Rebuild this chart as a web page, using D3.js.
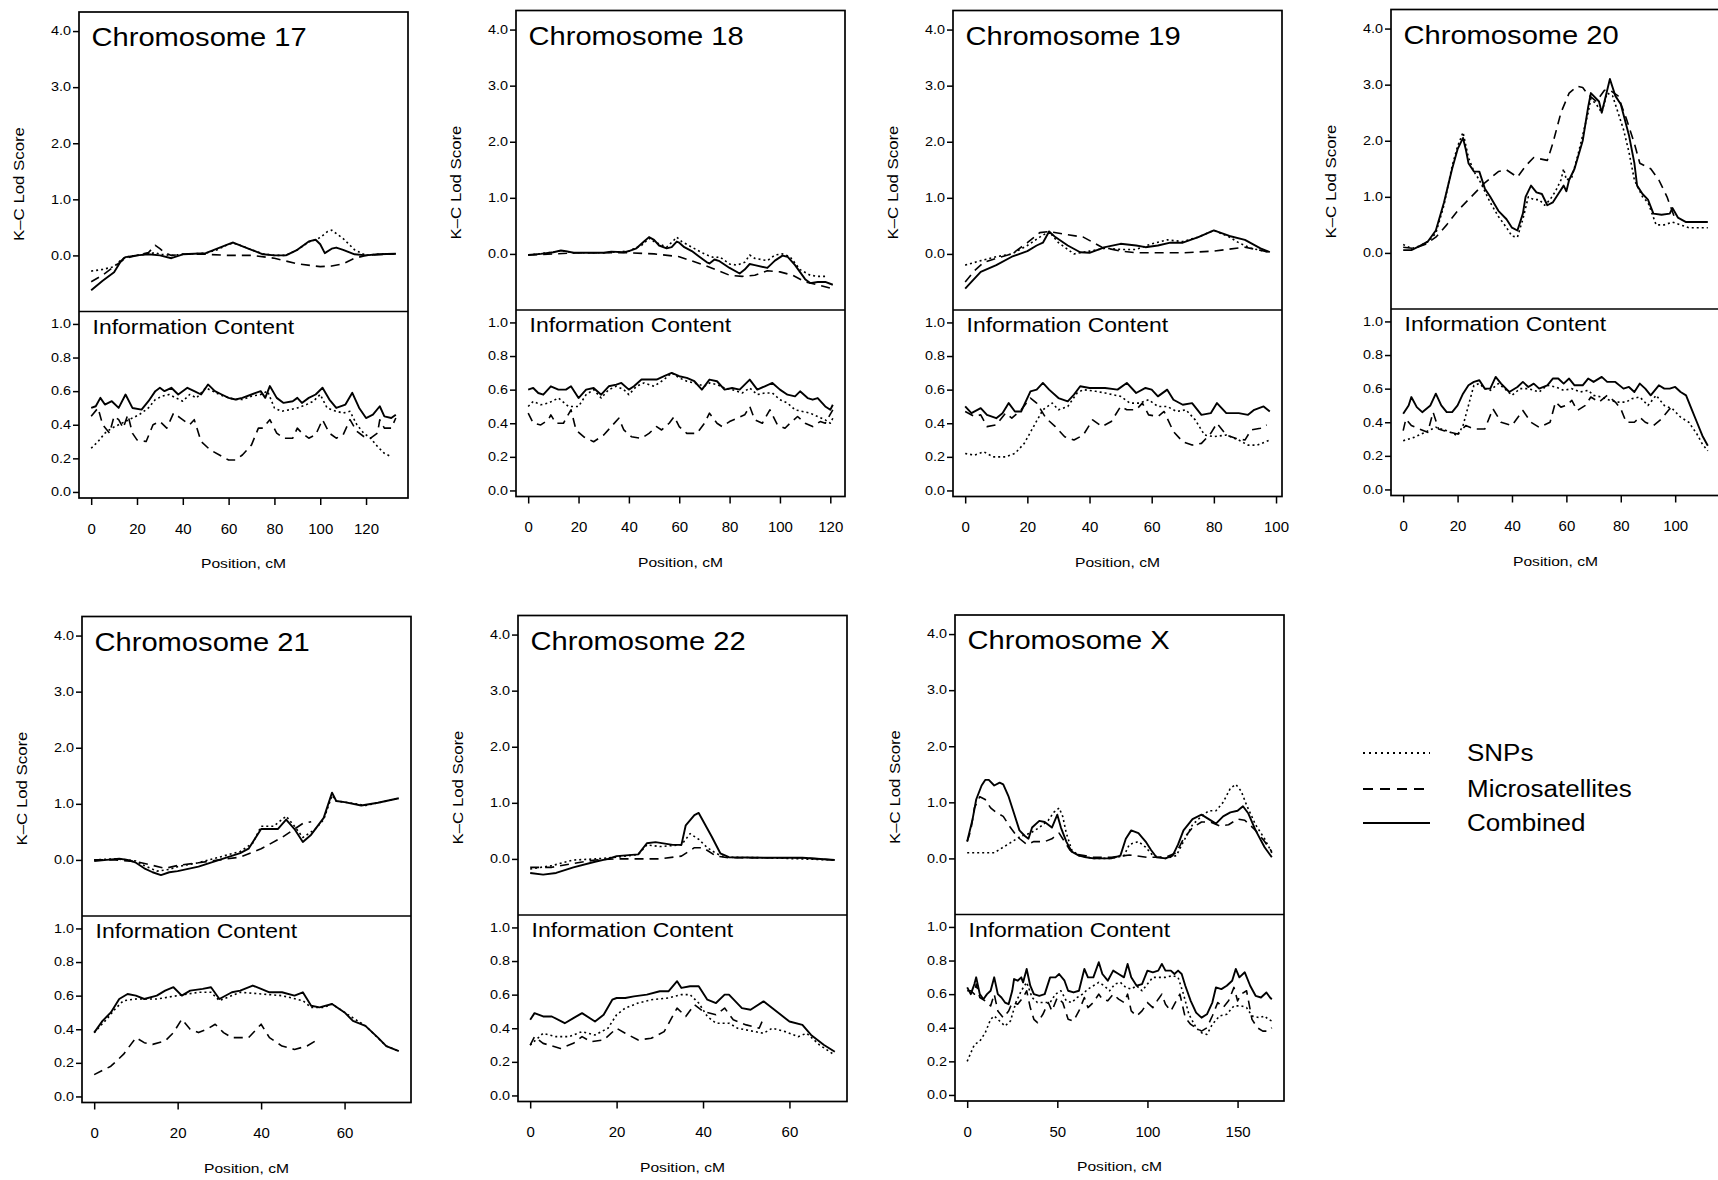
<!DOCTYPE html>
<html>
<head>
<meta charset="utf-8">
<script src="https://cdn.jsdelivr.net/npm/d3@7"></script>
<style>
  body { margin: 0; background: #fff; }
  svg { display: block; font-family: "Liberation Sans", Arial, Helvetica, sans-serif; }
</style>
</head>
<body>
<svg id="chart"></svg>
<script>
// Legend / series names and axis ticks
const seriesNames = ['SNPs', 'Microsatellites', 'Combined'];
const lodTicks = [0, 1, 2, 3, 4];
const infoTicks = [0, 0.2, 0.4, 0.6, 0.8, 1.0];

// Chromosome 17  ([position cM, value])
const chr17Len = 133;
const chr17Ticks = [0, 20, 40, 60, 80, 100, 120];
const chr17LodSnp = [[0,-0.28],[5,-0.25],[10,-0.2],[13,-0.08],[15,-0.03],[20,0],[25,0.03],[28,0.05],[30,0.02],[35,0],[40,0.02],[50,0.04],[55,0.1],[60,0.2],[62,0.22],[65,0.18],[70,0.1],[75,0.03],[80,0],[85,0],[90,0.1],[95,0.24],[98,0.28],[100,0.32],[103,0.42],[105,0.45],[110,0.3],[115,0.1],[120,0],[125,0.02],[133,0.03]];
const chr17LodMicro = [[0,-0.47],[5,-0.35],[10,-0.2],[15,-0.05],[20,0],[25,0.05],[28,0.18],[30,0.12],[32,0.05],[35,0],[40,0.02],[50,0.02],[60,0],[70,0],[80,-0.05],[90,-0.15],[100,-0.2],[105,-0.19],[110,-0.15],[115,-0.05],[120,0],[133,0.03]];
const chr17LodComb = [[0,-0.62],[5,-0.45],[10,-0.3],[13,-0.1],[15,-0.03],[20,0],[25,0.02],[30,0],[35,-0.05],[40,0.02],[45,0.03],[50,0.04],[55,0.12],[60,0.2],[62,0.23],[65,0.18],[70,0.1],[75,0.02],[80,0],[85,0],[90,0.1],[95,0.25],[98,0.28],[100,0.2],[102,0.04],[105,0.12],[107,0.14],[110,0.1],[115,0.02],[120,0],[125,0.02],[133,0.03]];
const chr17InfoSnp = [[0,0.26],[3,0.3],[6,0.35],[9,0.38],[12,0.4],[15,0.42],[18,0.44],[21,0.46],[25,0.5],[28,0.55],[31,0.57],[34,0.58],[37,0.56],[40,0.54],[43,0.58],[46,0.56],[50,0.62],[53,0.6],[56,0.58],[60,0.56],[63,0.55],[66,0.55],[70,0.57],[74,0.58],[77,0.6],[80,0.5],[83,0.48],[87,0.49],[90,0.5],[94,0.52],[97,0.54],[100,0.58],[103,0.5],[107,0.48],[110,0.47],[113,0.48],[116,0.4],[119,0.35],[122,0.32],[125,0.27],[128,0.23],[131,0.21]];
const chr17InfoMicro = [[0,0.45],[3,0.5],[5,0.4],[8,0.35],[10,0.45],[12,0.43],[14,0.38],[16,0.46],[18,0.35],[20,0.31],[24,0.3],[27,0.4],[30,0.42],[33,0.38],[36,0.47],[39,0.44],[43,0.4],[45,0.43],[48,0.3],[52,0.25],[56,0.22],[60,0.19],[63,0.19],[66,0.22],[70,0.28],[73,0.38],[75,0.38],[78,0.43],[81,0.35],[84,0.32],[88,0.32],[90,0.38],[92,0.35],[95,0.32],[98,0.34],[101,0.43],[104,0.35],[107,0.32],[110,0.34],[113,0.43],[116,0.36],[119,0.33],[122,0.32],[125,0.35],[126,0.43],[128,0.38],[131,0.38],[133,0.44]];
const chr17InfoComb = [[0,0.5],[2,0.51],[4,0.56],[6,0.52],[9,0.54],[12,0.5],[15,0.58],[18,0.5],[22,0.49],[25,0.54],[28,0.6],[30,0.62],[32,0.6],[35,0.62],[38,0.58],[42,0.62],[45,0.6],[48,0.58],[51,0.64],[54,0.6],[57,0.58],[60,0.56],[63,0.55],[66,0.56],[70,0.58],[74,0.6],[76,0.56],[78,0.63],[81,0.56],[84,0.53],[88,0.54],[90,0.56],[92,0.53],[95,0.56],[98,0.58],[101,0.62],[104,0.55],[107,0.5],[111,0.52],[114,0.59],[117,0.5],[120,0.44],[123,0.46],[126,0.51],[128,0.45],[131,0.44],[133,0.46]];

// Chromosome 18
const chr18Len = 121;
const chr18Ticks = [0, 20, 40, 60, 80, 100, 120];
const chr18LodSnp = [[0,-0.02],[10,0.03],[13,0.06],[18,0.02],[30,0.02],[40,0.05],[45,0.15],[48,0.28],[50,0.22],[55,0.12],[58,0.25],[59,0.3],[61,0.22],[65,0.12],[70,0],[74,-0.07],[76,-0.05],[80,-0.18],[83,-0.2],[86,-0.15],[88,-0.02],[90,-0.08],[95,-0.12],[98,-0.02],[101,0],[104,-0.05],[108,-0.28],[112,-0.38],[115,-0.4],[118,-0.4]];
const chr18LodMicro = [[0,-0.02],[10,0],[20,0.02],[30,0.02],[40,0.02],[50,0],[60,-0.05],[70,-0.2],[80,-0.38],[85,-0.4],[90,-0.38],[95,-0.3],[100,-0.32],[105,-0.38],[110,-0.5],[115,-0.55],[121,-0.62]];
const chr18LodComb = [[0,-0.02],[5,0],[10,0.03],[13,0.06],[15,0.05],[18,0.02],[25,0.02],[30,0.02],[33,0.04],[38,0.03],[40,0.05],[43,0.1],[46,0.22],[48,0.3],[50,0.25],[52,0.15],[55,0.1],[57,0.12],[59,0.22],[60,0.2],[62,0.12],[65,0.05],[68,-0.05],[71,-0.15],[72,-0.17],[74,-0.1],[76,-0.13],[80,-0.25],[84,-0.35],[86,-0.28],[88,-0.18],[90,-0.2],[95,-0.25],[98,-0.12],[101,-0.03],[103,-0.05],[106,-0.2],[110,-0.45],[112,-0.52],[115,-0.5],[118,-0.5],[121,-0.55]];
const chr18InfoSnp = [[0,0.5],[2,0.53],[5,0.51],[8,0.52],[12,0.55],[16,0.5],[20,0.5],[23,0.57],[26,0.6],[29,0.55],[32,0.6],[35,0.62],[38,0.6],[40,0.57],[43,0.62],[46,0.64],[50,0.62],[54,0.66],[57,0.7],[60,0.67],[63,0.65],[66,0.64],[70,0.62],[72,0.64],[75,0.63],[78,0.61],[81,0.6],[85,0.58],[88,0.61],[91,0.57],[94,0.58],[97,0.58],[100,0.54],[103,0.52],[106,0.48],[109,0.47],[112,0.46],[115,0.44],[118,0.42],[120,0.4],[121,0.43]];
const chr18InfoMicro = [[0,0.46],[2,0.4],[5,0.39],[8,0.42],[9,0.45],[11,0.4],[14,0.4],[17,0.48],[19,0.36],[22,0.32],[26,0.29],[30,0.33],[33,0.38],[36,0.43],[38,0.36],[41,0.32],[45,0.31],[48,0.34],[51,0.38],[53,0.36],[56,0.4],[58,0.44],[60,0.38],[63,0.34],[67,0.34],[70,0.4],[72,0.46],[75,0.4],[77,0.38],[80,0.41],[83,0.43],[86,0.45],[88,0.5],[90,0.42],[93,0.4],[96,0.48],[99,0.39],[102,0.37],[104,0.4],[107,0.44],[110,0.4],[113,0.38],[116,0.41],[118,0.4],[121,0.48]];
const chr18InfoComb = [[0,0.6],[2,0.61],[4,0.58],[6,0.57],[9,0.62],[12,0.6],[15,0.6],[17,0.62],[20,0.55],[23,0.6],[26,0.61],[29,0.57],[32,0.62],[35,0.63],[37,0.64],[40,0.6],[42,0.62],[45,0.66],[48,0.66],[51,0.66],[54,0.68],[57,0.7],[60,0.68],[63,0.67],[66,0.65],[69,0.6],[72,0.66],[75,0.65],[78,0.6],[81,0.61],[84,0.6],[88,0.66],[91,0.6],[94,0.62],[97,0.64],[100,0.6],[103,0.57],[106,0.56],[108,0.59],[111,0.55],[113,0.54],[115,0.55],[118,0.5],[120,0.48],[121,0.51]];

// Chromosome 19
const chr19Len = 98;
const chr19Ticks = [0, 20, 40, 60, 80, 100];
const chr19LodSnp = [[0,-0.2],[5,-0.12],[10,-0.05],[15,0],[20,0.15],[24,0.3],[27,0.4],[30,0.2],[35,0],[40,0.05],[45,0.1],[50,0.08],[55,0.08],[60,0.18],[65,0.25],[70,0.22],[75,0.3],[80,0.42],[85,0.3],[88,0.2],[92,0.1],[98,0.03]];
const chr19LodMicro = [[0,-0.5],[3,-0.3],[6,-0.15],[10,-0.08],[15,0],[20,0.2],[24,0.38],[27,0.4],[32,0.35],[38,0.3],[44,0.12],[50,0.05],[55,0.02],[60,0.02],[70,0.02],[80,0.05],[90,0.12],[98,0.03]];
const chr19LodComb = [[0,-0.62],[2,-0.5],[5,-0.32],[10,-0.2],[15,-0.05],[20,0.05],[23,0.15],[25,0.2],[27,0.4],[29,0.3],[33,0.15],[37,0.03],[40,0.02],[45,0.12],[50,0.18],[55,0.15],[58,0.12],[62,0.15],[66,0.2],[70,0.2],[75,0.3],[80,0.42],[85,0.32],[90,0.25],[95,0.1],[98,0.03]];
const chr19InfoSnp = [[0,0.22],[3,0.21],[6,0.23],[9,0.2],[13,0.2],[16,0.22],[19,0.28],[22,0.38],[25,0.48],[28,0.52],[30,0.48],[33,0.5],[36,0.58],[38,0.6],[42,0.59],[45,0.58],[50,0.56],[53,0.52],[56,0.52],[59,0.54],[62,0.5],[65,0.5],[68,0.47],[71,0.48],[74,0.42],[77,0.33],[80,0.32],[84,0.33],[88,0.3],[91,0.27],[94,0.27],[98,0.3]];
const chr19InfoMicro = [[0,0.47],[3,0.44],[5,0.45],[7,0.38],[10,0.39],[13,0.46],[15,0.43],[18,0.48],[21,0.55],[23,0.52],[26,0.43],[29,0.38],[32,0.32],[35,0.3],[38,0.33],[41,0.42],[44,0.38],[47,0.41],[50,0.5],[52,0.48],[55,0.48],[57,0.52],[59,0.45],[62,0.44],[64,0.47],[67,0.35],[70,0.29],[73,0.27],[76,0.28],[79,0.34],[81,0.4],[84,0.33],[87,0.31],[90,0.3],[92,0.36],[95,0.37],[97,0.39]];
const chr19InfoComb = [[0,0.5],[2,0.46],[5,0.49],[7,0.45],[10,0.43],[12,0.46],[14,0.52],[16,0.47],[18,0.47],[21,0.59],[23,0.6],[25,0.64],[27,0.6],[30,0.55],[33,0.53],[35,0.57],[37,0.62],[40,0.61],[45,0.61],[49,0.6],[52,0.64],[55,0.58],[58,0.61],[60,0.6],[62,0.56],[65,0.6],[67,0.54],[70,0.51],[73,0.52],[76,0.45],[79,0.46],[81,0.52],[84,0.46],[88,0.46],[91,0.45],[93,0.48],[96,0.5],[98,0.47]];

// Chromosome 20
const chr20Len = 112;
const chr20Ticks = [0, 20, 40, 60, 80, 100];
const chr20LodSnp = [[0,0.15],[3,0.08],[6,0.12],[9,0.2],[12,0.35],[15,0.85],[18,1.55],[20,1.9],[22,2.15],[24,1.7],[26,1.45],[28,1.3],[30,1.1],[32,0.9],[35,0.65],[38,0.45],[40,0.3],[42,0.28],[44,0.6],[46,1.0],[48,0.95],[50,0.95],[52,0.85],[54,0.95],[56,1.1],[58,1.3],[59,1.5],[60,1.3],[62,1.35],[64,1.7],[66,2.1],[68,2.5],[69,2.75],[71,2.65],[73,2.5],[75,2.85],[77,2.8],[79,2.5],[81,2.2],[83,1.8],[85,1.3],[88,1.0],[90,0.9],[93,0.5],[96,0.5],[99,0.55],[102,0.5],[105,0.45],[112,0.45]];
const chr20LodMicro = [[0,0.1],[4,0.08],[8,0.15],[12,0.28],[16,0.5],[20,0.75],[25,1.0],[30,1.25],[35,1.45],[38,1.48],[42,1.35],[45,1.55],[48,1.7],[53,1.65],[55,1.95],[58,2.5],[61,2.85],[64,2.97],[66,2.95],[68,2.82],[71,2.7],[74,2.9],[76,2.9],[79,2.8],[82,2.4],[85,1.95],[87,1.6],[91,1.5],[94,1.3],[97,1.0],[100,0.6]];
const chr20LodComb = [[0,0.05],[3,0.05],[6,0.12],[9,0.2],[12,0.4],[15,0.9],[18,1.5],[20,1.85],[22,2.05],[23,1.85],[24,1.6],[26,1.45],[28,1.45],[30,1.15],[32,1.0],[35,0.75],[38,0.6],[40,0.45],[42,0.4],[44,0.7],[45,1.0],[47,1.2],[49,1.08],[51,1.05],[53,0.85],[55,0.9],[57,1.05],[59,1.2],[60,1.1],[61,1.3],[63,1.5],[66,2.0],[68,2.6],[69,2.85],[72,2.7],[73,2.5],[75,2.9],[76,3.1],[78,2.8],[80,2.65],[83,2.1],[85,1.6],[86,1.2],[88,1.05],[90,0.95],[92,0.7],[95,0.68],[98,0.7],[99,0.8],[101,0.63],[104,0.55],[112,0.55]];
const chr20InfoSnp = [[0,0.29],[4,0.31],[8,0.34],[12,0.37],[16,0.35],[20,0.32],[22,0.38],[24,0.5],[26,0.62],[28,0.63],[30,0.6],[32,0.59],[35,0.63],[38,0.59],[40,0.56],[43,0.6],[46,0.6],[50,0.58],[53,0.62],[56,0.61],[59,0.59],[62,0.6],[65,0.58],[68,0.59],[70,0.56],[73,0.55],[76,0.53],[79,0.52],[82,0.52],[84,0.54],[87,0.55],[90,0.5],[93,0.56],[96,0.5],[99,0.48],[102,0.43],[105,0.4],[108,0.33],[110,0.27],[112,0.23]];
const chr20InfoMicro = [[0,0.35],[1,0.42],[3,0.38],[6,0.36],[9,0.34],[11,0.46],[13,0.36],[15,0.35],[20,0.33],[23,0.38],[26,0.36],[30,0.36],[33,0.48],[36,0.4],[40,0.38],[44,0.47],[47,0.4],[50,0.37],[54,0.4],[56,0.52],[58,0.49],[60,0.5],[62,0.53],[64,0.47],[67,0.5],[69,0.55],[72,0.52],[75,0.56],[78,0.52],[80,0.48],[82,0.4],[85,0.4],[87,0.43],[89,0.4],[92,0.38],[95,0.42],[98,0.48],[100,0.46]];
const chr20InfoComb = [[0,0.45],[2,0.5],[3,0.55],[5,0.49],[7,0.46],[10,0.5],[12,0.57],[14,0.5],[16,0.46],[18,0.46],[20,0.5],[22,0.57],[24,0.62],[26,0.64],[28,0.65],[30,0.6],[32,0.6],[34,0.67],[36,0.63],[39,0.58],[42,0.61],[44,0.64],[46,0.61],[48,0.63],[50,0.6],[53,0.62],[55,0.66],[57,0.66],[59,0.63],[61,0.66],[63,0.62],[66,0.62],[68,0.66],[70,0.64],[73,0.67],[75,0.64],[78,0.64],[81,0.6],[83,0.61],[85,0.58],[87,0.63],[89,0.6],[91,0.56],[94,0.62],[96,0.6],[98,0.6],[100,0.61],[102,0.58],[104,0.56],[106,0.48],[108,0.4],[110,0.32],[112,0.26]];

// Chromosome 21
const chr21Len = 73;
const chr21Ticks = [0, 20, 40, 60];
const chr21LodSnp = [[0,0],[5,0.02],[8,0],[10,-0.02],[12,-0.1],[15,-0.2],[18,-0.17],[20,-0.12],[25,-0.05],[30,0.05],[35,0.15],[38,0.3],[40,0.6],[43,0.6],[46,0.78],[48,0.6],[50,0.4],[53,0.55],[55,0.72],[57,1.15],[58,1.05],[61,1.02],[65,0.97],[70,1.05],[73,1.1]];
const chr21LodMicro = [[0,0],[5,0],[10,-0.03],[13,-0.08],[17,-0.15],[20,-0.1],[25,-0.05],[30,0],[35,0.05],[40,0.2],[45,0.4],[50,0.65],[52,0.68]];
const chr21LodComb = [[0,-0.02],[3,0],[6,0.02],[8,0],[10,-0.05],[12,-0.15],[14,-0.22],[16,-0.27],[18,-0.22],[20,-0.2],[25,-0.12],[30,0],[35,0.12],[37,0.2],[40,0.55],[42,0.55],[44,0.55],[46,0.72],[48,0.55],[50,0.32],[52,0.45],[55,0.75],[57,1.2],[58,1.05],[60,1.03],[64,0.97],[68,1.02],[73,1.1]];
const chr21InfoSnp = [[0,0.38],[3,0.46],[5,0.52],[7,0.57],[10,0.58],[15,0.58],[20,0.6],[25,0.62],[28,0.62],[30,0.57],[35,0.62],[40,0.61],[45,0.6],[50,0.57],[52,0.53],[55,0.53],[57,0.55],[60,0.5],[65,0.42],[70,0.3],[73,0.27]];
const chr21InfoMicro = [[0,0.13],[4,0.18],[7,0.25],[10,0.35],[12,0.32],[14,0.31],[17,0.33],[19,0.38],[21,0.46],[23,0.4],[25,0.38],[27,0.4],[29,0.43],[31,0.38],[33,0.35],[37,0.35],[40,0.43],[42,0.35],[45,0.3],[48,0.28],[51,0.3],[53,0.33]];
const chr21InfoComb = [[0,0.38],[2,0.45],[4,0.5],[6,0.58],[8,0.61],[10,0.6],[12,0.58],[15,0.6],[17,0.63],[19,0.65],[21,0.6],[23,0.63],[26,0.64],[28,0.65],[30,0.58],[33,0.62],[35,0.63],[38,0.66],[40,0.64],[42,0.62],[45,0.62],[48,0.6],[50,0.62],[52,0.54],[54,0.53],[57,0.55],[60,0.5],[62,0.45],[65,0.42],[68,0.35],[70,0.3],[73,0.27]];

// Chromosome 22
const chr22Len = 70.5;
const chr22Ticks = [0, 20, 40, 60];
const chr22LodSnp = [[0,-0.18],[5,-0.12],[10,-0.02],[15,0],[20,0.03],[25,0.08],[27,0.25],[30,0.22],[35,0.25],[37,0.45],[39,0.35],[41,0.2],[43,0.1],[45,0.03],[55,0.02],[70.5,-0.02]];
const chr22LodMicro = [[0,-0.15],[5,-0.15],[10,-0.08],[15,-0.02],[20,0],[30,0],[35,0.05],[38,0.2],[40,0.2],[43,0.05],[46,0.02],[55,0.02],[63,0.02],[70.5,-0.02]];
const chr22LodComb = [[0,-0.25],[3,-0.28],[6,-0.25],[10,-0.15],[15,-0.05],[18,0],[20,0.05],[25,0.08],[27,0.28],[29,0.3],[33,0.25],[35,0.25],[36,0.6],[38,0.78],[39,0.82],[42,0.4],[44,0.1],[46,0.03],[55,0.02],[63,0.02],[70.5,-0.02]];
const chr22InfoSnp = [[0,0.3],[3,0.37],[6,0.35],[9,0.35],[12,0.38],[15,0.36],[18,0.4],[20,0.48],[22,0.52],[25,0.55],[28,0.57],[32,0.58],[35,0.6],[37,0.6],[39,0.55],[41,0.47],[43,0.43],[46,0.43],[48,0.4],[52,0.38],[54,0.37],[56,0.4],[59,0.38],[62,0.35],[64,0.37],[67,0.3],[70.5,0.24]];
const chr22InfoMicro = [[0,0.3],[1,0.35],[3,0.31],[7,0.28],[10,0.31],[12,0.35],[14,0.32],[17,0.33],[20,0.4],[22,0.37],[25,0.33],[28,0.34],[31,0.38],[34,0.52],[36,0.47],[38,0.54],[40,0.5],[43,0.48],[45,0.52],[47,0.45],[50,0.42],[53,0.4],[54,0.46]];
const chr22InfoComb = [[0,0.45],[1,0.49],[3,0.47],[5,0.47],[8,0.43],[10,0.46],[12,0.49],[15,0.44],[17,0.48],[19,0.57],[20,0.58],[22,0.58],[24,0.59],[27,0.6],[30,0.62],[32,0.62],[34,0.68],[35,0.64],[37,0.65],[39,0.65],[41,0.57],[43,0.55],[45,0.6],[46,0.6],[49,0.52],[51,0.51],[54,0.56],[56,0.52],[58,0.48],[60,0.44],[63,0.42],[65,0.36],[68,0.3],[70.5,0.26]];

// Chromosome X
const chrXLen = 169;
const chrXTicks = [0, 50, 100, 150];
const chrXLodSnp = [[0,0.1],[5,0.1],[10,0.1],[15,0.1],[20,0.2],[25,0.3],[30,0.4],[35,0.45],[40,0.55],[45,0.68],[48,0.82],[51,0.9],[53,0.75],[55,0.45],[58,0.15],[62,0.05],[70,0],[80,0],[87,0.05],[90,0.25],[95,0.3],[99,0.2],[103,0.05],[110,0],[116,0.05],[120,0.3],[125,0.6],[130,0.75],[134,0.85],[138,0.85],[142,1.0],[146,1.25],[149,1.32],[152,1.2],[155,0.95],[160,0.6],[165,0.35],[169,0.1]];
const chrXLodMicro = [[0,0.3],[2,0.5],[4,0.9],[7,1.1],[10,1.05],[13,0.9],[16,0.82],[20,0.75],[24,0.55],[28,0.38],[33,0.25],[37,0.3],[43,0.3],[47,0.35],[51,0.45],[54,0.3],[57,0.15],[60,0.08],[65,0.05],[70,0.02],[80,0.02],[90,0.06],[100,0.02],[110,0.02],[116,0.1],[120,0.35],[125,0.55],[130,0.65],[135,0.65],[140,0.58],[145,0.6],[150,0.7],[154,0.68],[160,0.5],[165,0.3],[169,0.12]];
const chrXLodComb = [[0,0.3],[3,0.7],[5,1.05],[8,1.3],[10,1.4],[12,1.4],[15,1.3],[18,1.35],[20,1.32],[23,1.1],[26,0.8],[29,0.5],[32,0.4],[34,0.35],[36,0.55],[40,0.67],[43,0.65],[47,0.55],[50,0.78],[52,0.55],[55,0.3],[58,0.12],[62,0.05],[66,0.02],[70,0],[75,0],[80,0],[85,0.05],[88,0.35],[91,0.5],[95,0.45],[99,0.3],[102,0.15],[105,0.02],[110,0],[114,0.05],[117,0.25],[120,0.5],[125,0.7],[130,0.78],[134,0.7],[138,0.62],[142,0.75],[146,0.82],[150,0.85],[153,0.93],[156,0.8],[160,0.5],[165,0.2],[169,0.02]];
const chrXInfoSnp = [[0,0.2],[2,0.25],[4,0.3],[7,0.32],[10,0.37],[13,0.45],[15,0.47],[18,0.44],[21,0.41],[24,0.44],[27,0.55],[30,0.62],[33,0.67],[36,0.58],[39,0.55],[43,0.55],[46,0.55],[49,0.6],[52,0.62],[55,0.56],[58,0.55],[61,0.58],[64,0.6],[67,0.63],[70,0.65],[73,0.67],[76,0.65],[79,0.62],[82,0.66],[85,0.67],[88,0.64],[91,0.63],[94,0.65],[97,0.62],[100,0.66],[103,0.7],[106,0.7],[110,0.7],[114,0.71],[117,0.7],[120,0.6],[123,0.48],[127,0.4],[130,0.37],[133,0.36],[136,0.42],[140,0.47],[144,0.48],[148,0.53],[152,0.53],[155,0.52],[158,0.47],[162,0.46],[165,0.47],[167,0.45],[169,0.44]];
const chrXInfoMicro = [[0,0.62],[2,0.62],[4,0.6],[5,0.66],[7,0.58],[10,0.56],[13,0.53],[15,0.6],[17,0.5],[20,0.46],[23,0.5],[25,0.55],[28,0.54],[31,0.58],[33,0.62],[35,0.52],[37,0.45],[39,0.43],[42,0.48],[45,0.55],[47,0.5],[50,0.58],[53,0.55],[56,0.45],[59,0.44],[62,0.5],[65,0.58],[67,0.52],[70,0.55],[73,0.6],[75,0.57],[78,0.56],[81,0.6],[84,0.57],[87,0.55],[89,0.6],[91,0.5],[94,0.47],[97,0.5],[100,0.55],[103,0.52],[106,0.57],[108,0.6],[110,0.54],[113,0.5],[116,0.56],[118,0.6],[121,0.46],[124,0.42],[127,0.4],[130,0.38],[133,0.4],[136,0.47],[139,0.55],[142,0.52],[145,0.56],[148,0.64],[150,0.56],[152,0.6],[155,0.62],[158,0.45],[161,0.4],[164,0.38],[167,0.38],[169,0.4]];
const chrXInfoComb = [[0,0.64],[2,0.6],[4,0.66],[5,0.7],[7,0.6],[9,0.57],[11,0.6],[13,0.62],[15,0.7],[17,0.6],[19,0.58],[21,0.55],[23,0.54],[25,0.62],[26,0.69],[28,0.68],[30,0.7],[31,0.67],[33,0.75],[35,0.65],[37,0.6],[40,0.59],[43,0.6],[46,0.7],[49,0.7],[51,0.72],[54,0.68],[56,0.62],[59,0.61],[62,0.62],[65,0.75],[67,0.7],[70,0.7],[73,0.79],[75,0.72],[78,0.68],[81,0.74],[84,0.72],[87,0.7],[89,0.78],[91,0.7],[94,0.65],[97,0.66],[100,0.74],[103,0.73],[106,0.74],[108,0.78],[110,0.74],[113,0.74],[115,0.72],[117,0.74],[119,0.72],[121,0.65],[124,0.56],[127,0.49],[130,0.46],[133,0.48],[136,0.55],[138,0.64],[141,0.63],[144,0.65],[147,0.68],[149,0.75],[151,0.7],[154,0.73],[157,0.65],[160,0.59],[163,0.58],[166,0.61],[168,0.58],[169,0.57]];

// Panel table built from the arrays above (left/top are layout positions of each box)
const panels = [
  { title: 'Chromosome 17', len: chr17Len, ticks: chr17Ticks, left: 79,   top: 12,    lod: [chr17LodSnp, chr17LodMicro, chr17LodComb], info: [chr17InfoSnp, chr17InfoMicro, chr17InfoComb] },
  { title: 'Chromosome 18', len: chr18Len, ticks: chr18Ticks, left: 516,  top: 10.5,  lod: [chr18LodSnp, chr18LodMicro, chr18LodComb], info: [chr18InfoSnp, chr18InfoMicro, chr18InfoComb] },
  { title: 'Chromosome 19', len: chr19Len, ticks: chr19Ticks, left: 953,  top: 10.5,  lod: [chr19LodSnp, chr19LodMicro, chr19LodComb], info: [chr19InfoSnp, chr19InfoMicro, chr19InfoComb] },
  { title: 'Chromosome 20', len: chr20Len, ticks: chr20Ticks, left: 1391, top: 9.5,   lod: [chr20LodSnp, chr20LodMicro, chr20LodComb], info: [chr20InfoSnp, chr20InfoMicro, chr20InfoComb] },
  { title: 'Chromosome 21', len: chr21Len, ticks: chr21Ticks, left: 82,   top: 616.5, lod: [chr21LodSnp, chr21LodMicro, chr21LodComb], info: [chr21InfoSnp, chr21InfoMicro, chr21InfoComb] },
  { title: 'Chromosome 22', len: chr22Len, ticks: chr22Ticks, left: 518,  top: 615.5, lod: [chr22LodSnp, chr22LodMicro, chr22LodComb], info: [chr22InfoSnp, chr22InfoMicro, chr22InfoComb] },
  { title: 'Chromosome X',  len: chrXLen,  ticks: chrXTicks,  left: 955,  top: 615,   lod: [chrXLodSnp, chrXLodMicro, chrXLodComb],   info: [chrXInfoSnp, chrXInfoMicro, chrXInfoComb] }
];

// line styles for SNPs, Microsatellites, Combined
const dashes = ['2,3', '9,6', null];
const widths = [1.6, 1.6, 1.9];

const W = 329, HU = 299.5, HL = 186.5;

const svg = d3.select('#chart').attr('width', 1718).attr('height', 1180);
svg.append('rect').attr('width', 1718).attr('height', 1180).attr('fill', '#fff');

// the scanned lettering is wider than Arial, so stretch text horizontally
function stretch(sel, k) {
  sel.each(function () {
    const w = this.getComputedTextLength();
    this.setAttribute('textLength', w * k);
    this.setAttribute('lengthAdjust', 'spacingAndGlyphs');
  });
}

panels.forEach(p => {
  const g = svg.append('g').attr('transform', `translate(${p.left},${p.top})`);

  const x = d3.scaleLinear().domain([-0.04 * p.len, 1.04 * p.len]).range([0, W]);
  const yU = d3.scaleLinear().domain([-1.0, 4.34]).range([HU, 0]);
  const yL = d3.scaleLinear().domain([-0.036, 1.074]).range([HU + HL, HU]);

  const lineU = d3.line().x(d => x(d[0])).y(d => yU(d[1]));
  const lineL = d3.line().x(d => x(d[0])).y(d => yL(d[1]));

  // draw the three series in both sub-panels
  [0, 1, 2].forEach(i => {
    g.append('path').datum(p.lod[i])
      .attr('d', lineU)
      .attr('fill', 'none').attr('stroke', '#000')
      .attr('stroke-width', widths[i])
      .attr('stroke-dasharray', dashes[i])
      .attr('stroke-linejoin', 'round');
    g.append('path').datum(p.info[i])
      .attr('d', lineL)
      .attr('fill', 'none').attr('stroke', '#000')
      .attr('stroke-width', widths[i])
      .attr('stroke-dasharray', dashes[i])
      .attr('stroke-linejoin', 'round');
  });

  // frame and divider
  g.append('rect').attr('width', W).attr('height', HU + HL)
    .attr('fill', 'none').attr('stroke', '#000').attr('stroke-width', 1.7);
  g.append('line').attr('x1', 0).attr('x2', W).attr('y1', HU).attr('y2', HU)
    .attr('stroke', '#000').attr('stroke-width', 1.7);

  // y axes
  const ayU = g.append('g').call(d3.axisLeft(yU).tickValues(lodTicks).tickFormat(d3.format('.1f')).tickSize(6).tickPadding(2));
  const ayL = g.append('g').call(d3.axisLeft(yL).tickValues(infoTicks).tickFormat(d3.format('.1f')).tickSize(6).tickPadding(2));
  [ayU, ayL].forEach(a => {
    a.select('.domain').remove();
    a.attr('font-family', null).attr('font-size', null);
    a.selectAll('line').attr('stroke-width', 1.5);
    a.selectAll('text').style('font-size', '12px').call(stretch, 1.2);
  });

  // x axis
  const ax = g.append('g').attr('transform', `translate(0,${HU + HL})`)
    .call(d3.axisBottom(x).tickValues(p.ticks).tickSize(7).tickPadding(18));
  ax.select('.domain').remove();
  ax.attr('font-family', null).attr('font-size', null);
  ax.selectAll('line').attr('stroke-width', 1.5);
  ax.selectAll('text').style('font-size', '15px');

  g.append('text')
    .attr('x', W / 2).attr('y', HU + HL + 70)
    .attr('text-anchor', 'middle')
    .style('font-size', '13px')
    .text('Position, cM')
    .call(stretch, 1.2);

  g.append('text')
    .attr('transform', 'translate(-60,172) rotate(-90)')
    .attr('text-anchor', 'middle')
    .attr('dominant-baseline', 'central')
    .style('font-size', '14px')
    .text('K\u2013C Lod Score')
    .call(stretch, 1.2);

  // titles
  g.append('text')
    .attr('x', 12.5).attr('y', 34)
    .style('font-size', '26px')
    .text(p.title)
    .call(stretch, 1.12);
  g.append('text')
    .attr('x', 13.5).attr('y', HU + 22)
    .style('font-size', '20.5px')
    .text('Information Content')
    .call(stretch, 1.12);
});

// legend
const legendY = [753, 789, 823];
const legendDash = ['2,4', '10,7', null];
const legend = svg.append('g');
seriesNames.forEach((name, i) => {
  legend.append('line')
    .attr('x1', 1363).attr('x2', 1430)
    .attr('y1', legendY[i]).attr('y2', legendY[i])
    .attr('stroke', '#000').attr('stroke-width', 2)
    .attr('stroke-dasharray', legendDash[i]);
  legend.append('text')
    .attr('x', 1467).attr('y', legendY[i])
    .attr('dominant-baseline', 'central')
    .style('font-size', '23px')
    .text(name)
    .call(stretch, 1.13);
});
</script>
</body>
</html>
